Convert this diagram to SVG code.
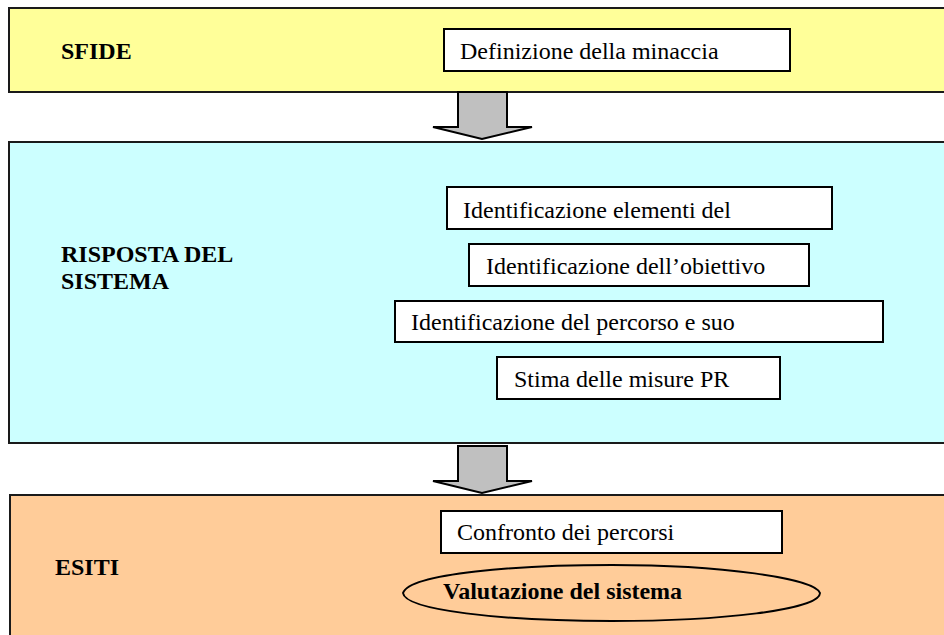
<svg xmlns="http://www.w3.org/2000/svg" width="944" height="635" viewBox="0 0 944 635">
<style>
  .band { stroke: #1a1a1a; stroke-width: 2; }
  .box { fill: #ffffff; stroke: #000000; stroke-width: 2; }
  .t { font-family: "Liberation Serif", "Times New Roman", serif; font-size: 24px; fill: #000000; }
  .b { font-family: "Liberation Serif", "Times New Roman", serif; font-size: 24px; font-weight: bold; fill: #000000; }
  .arrow { fill: #c0c0c0; stroke: #000000; stroke-width: 2; stroke-linejoin: miter; }
</style>
<rect width="944" height="635" fill="#ffffff"/>

<g id="sfide">
  <rect class="band" x="9" y="8" width="940" height="84" fill="#ffff99"/>
  <text class="b" x="61" y="59">SFIDE</text>
</g>
<g id="definizione">
  <rect class="box" x="444" y="29" width="346" height="42"/>
  <text class="t" x="460" y="59">Definizione della minaccia</text>
</g>

<g id="risposta">
  <rect class="band" x="9" y="142" width="940" height="301" fill="#ccffff"/>
  <text class="b" x="61" y="262">RISPOSTA DEL</text>
  <text class="b" x="61" y="289">SISTEMA</text>
</g>
<g id="elementi">
  <rect class="box" x="447" y="187" width="385" height="42"/>
  <text class="t" x="463" y="218">Identificazione elementi del</text>
</g>
<g id="obiettivo">
  <rect class="box" x="469" y="244" width="340" height="42"/>
  <text class="t" x="486" y="274">Identificazione dell’obiettivo</text>
</g>
<g id="percorso">
  <rect class="box" x="395" y="301" width="488" height="41"/>
  <text class="t" x="411" y="330">Identificazione del percorso e suo</text>
</g>
<g id="stima">
  <rect class="box" x="497" y="357" width="283" height="42"/>
  <text class="t" x="514" y="387">Stima delle misure PR</text>
</g>

<g id="esiti">
  <rect class="band" x="10" y="495" width="940" height="150" fill="#ffcc99"/>
  <text class="b" x="55" y="575">ESITI</text>
</g>
<g id="confronto">
  <rect class="box" x="441" y="511" width="341" height="42"/>
  <text class="t" x="457" y="540">Confronto dei percorsi</text>
</g>
<g id="valutazione">
  <path d="M 403 593 C 410 573, 520 565, 612 565 C 720 565, 815 578, 820 593 C 820 610, 720 621, 612 621 C 500 621, 405 610, 403 593 Z" fill="none" stroke="#000000" stroke-width="2"/>
  <text class="b" x="443" y="599">Valutazione del sistema</text>
</g>

<g id="connectors">
  <path class="arrow" d="M 458 92 L 507 92 L 507 127 L 532 127 L 482 139 L 433 127 L 458 127 Z"/>
  <path class="arrow" d="M 458 446 L 507 446 L 507 481 L 532 481 L 482 493 L 433 481 L 458 481 Z"/>
</g>
</svg>
